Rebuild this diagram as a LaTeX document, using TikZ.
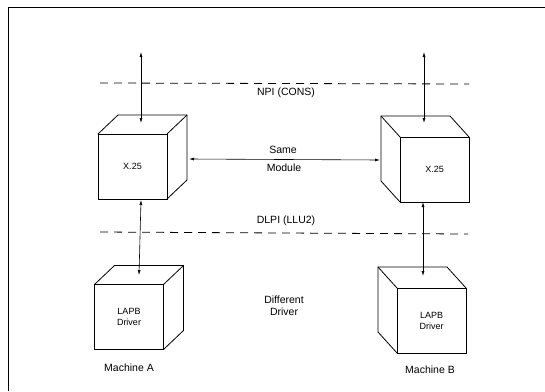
\documentclass[tikz,border=0pt]{standalone}
\usepackage{fontspec}
\setmainfont{Liberation Sans}
\usetikzlibrary{arrows.meta,positioning}

\begin{document}
\begin{tikzpicture}[x=1pt,y=-1pt,font=\fontsize{10.5}{12}\selectfont,
        front/.style={draw,thick,minimum width=69pt,minimum height=65pt,
          inner sep=0pt,outer sep=0pt,align=center,font=\fontsize{9}{11}\selectfont},
        bidir/.style={semithick,{Latex[length=5pt,width=3pt]}-{Latex[length=5pt,width=3pt]}},
        iface/.style={dash pattern=on 8pt off 6pt,thick}]
        \useasboundingbox (0,0) rectangle (545,391);
        \draw[thick] (8.5,391) -- (8.5,7.5) -- (545,7.5);
        % cubes of machine A, depth to the right
        \node[front] (xa) at (132.5,166.5) {X.25};
        \node[front] (la) at (129,317) {LAPB\\Driver};
        \foreach \f in {xa,la} {
          \draw[thick] (\f.north west) -- ++(20,-19) -- ++(69,0) -- ++(0,65) -- (\f.south east);
          \draw[thick] (\f.north east) -- ++(20,-19);
        }
        % cubes of machine B, depth to the left
        \node[front] (xb) at (434.5,169.5) {X.25};
        \node[front] (lb) at (431.5,320.5) {LAPB\\Driver};
        \foreach \f in {xb,lb} {
          \draw[thick] (\f.north east) -- ++(-19,-21) -- ++(-69,0) -- ++(0,65) -- (\f.south west);
          \draw[thick] (\f.north west) -- ++(-19,-21);
        }
        % service interfaces
        \coordinate (npil) at (100,83); \coordinate (npir) at (469,84);
        \coordinate (dlpil) at (100,232); \coordinate (dlpir) at (468,234);
        \draw[iface] (npil) -- (npir);
        \draw[iface] (dlpil) -- (dlpir);
        \node (npi) at (286,93) {NPI (CONS)};
        \node (dlpi) at (286,221) {DLPI (LLU2)};
        % arrow ends
        \coordinate (ta) at (141,52); \coordinate (tatop) at (141,123);
        \coordinate (ba) at (141,200); \coordinate (latop) at (139,275);
        \coordinate (tb) at (424,52); \coordinate (tbtop) at (424,123);
        \coordinate (bb) at (423,202); \coordinate (lbtop) at (423,276);
        \coordinate (sa) at (189,159); \coordinate (sb) at (380,160);
        \draw[bidir] (ta) -- (tatop); \draw[bidir] (ba) -- (latop);
        \draw[bidir] (tb) -- (tbtop); \draw[bidir] (bb) -- (lbtop);
        \draw[bidir] (sa) -- (sb);
        \node (same) at (283,149.5) {Same};
        \node (module) at (284,168) {Module};
        \node[align=center] (diff) at (284,305.5) {Different\\Driver};
        \node (ma) at (129,368) {Machine A};
        \node (mb) at (430,370) {Machine B};
      \end{tikzpicture}
\end{document}
